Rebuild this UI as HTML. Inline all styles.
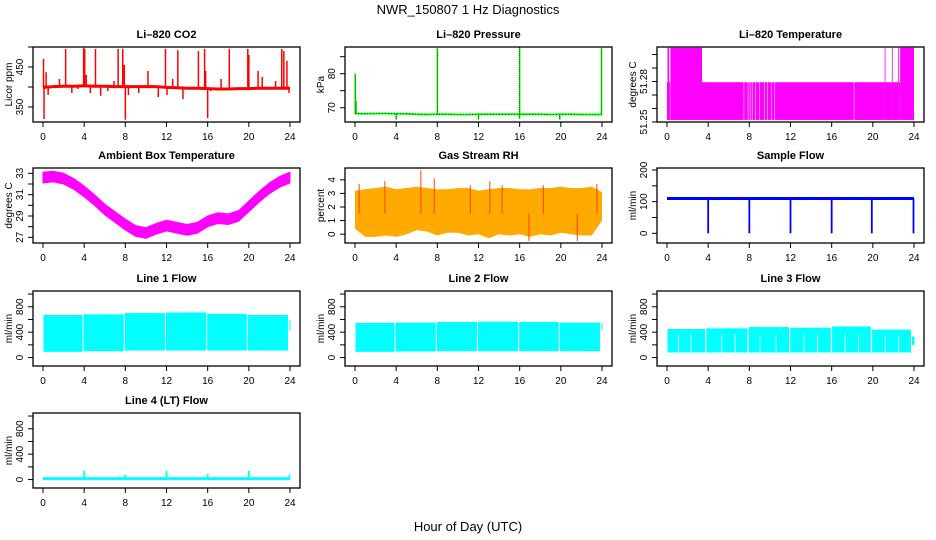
<!DOCTYPE html>
<html><head><meta charset="utf-8"><title>NWR_150807 1 Hz Diagnostics</title>
<style>
html,body{margin:0;padding:0;background:#fff;}
svg{display:block;font-family:"Liberation Sans",Arial,sans-serif;}
</style></head>
<body>
<svg id="fig" width="936" height="540" viewBox="0 0 936 540">
<rect x="0" y="0" width="936" height="540" fill="#fff"/>
<text x="468" y="14" text-anchor="middle" font-size="13">NWR_150807  1 Hz Diagnostics</text>
<text x="468" y="531" text-anchor="middle" font-size="13">Hour of Day (UTC)</text>
</svg>
<script>
// ---------- data ----------
const xTicks = [0,4,8,12,16,20,24];
const hours = [0,1,2,3,4,5,6,7,8,9,10,11,12,13,14,15,16,17,18,19,20,21,22,23,24];

const co2Base = [399,401,402,402,403,402,402,401,401,401,401,401,399,398,397,397,396,395,395,396,396,397,397,397,397];
const co2SpikeT = [0.05,0.1,0.3,0.5,1.6,2.2,2.8,3.4,3.95,4.05,4.2,4.6,5.1,5.6,6.3,6.9,7.3,7.75,7.9,8.0,8.3,9.3,10.2,11.2,11.9,12.05,12.6,13.1,13.6,14.3,15.1,15.7,15.8,16.0,16.3,17.3,18.1,19.9,20.0,20.9,21.3,22.6,23.2,23.4,23.7,23.9];
const co2SpikeV = [470,320,437,380,420,495,385,395,498,495,430,385,495,378,390,415,495,495,455,318,380,385,440,375,495,380,420,492,370,395,490,495,440,322,390,420,495,495,480,440,425,415,495,490,465,385];

const presBase = [68.3,68.2,68.3,68.3,68.2,68.2,68.1,68.0,68.1,68.1,68.0,68.0,68.1,68.1,68.1,68.1,68.1,68.1,68.1,68.0,68.1,68.1,68.0,68.0,68.0];
const presSpikeT = [0.02,0.1,4.0,8.0,12.0,15.98,16.0,19.9,23.95];
const presSpikeV = [80,72,66.5,87.5,66.5,66.8,88.0,66.5,87.5];

const tempT0 = [0.0,0.05,0.2,0.33,3.4,7.5,7.9,8.1,8.3,8.6,9.0,9.5,9.8,10.2,10.5,18.2,21.15,21.2,21.85,21.9,22.45,22.5,22.65];
const tempT1 = [0.05,0.2,0.3,3.4,7.45,7.85,8.05,8.25,8.55,8.95,9.45,9.75,10.15,10.45,18.15,21.15,21.2,21.85,21.9,22.45,22.5,22.65,24.0];
const tempLo = [51.2515,51.2515,51.2515,51.2515,51.2515,51.2515,51.2515,51.2515,51.2515,51.2515,51.2515,51.2515,51.2515,51.2515,51.2515,51.2515,51.2515,51.2515,51.2515,51.2515,51.2515,51.2515,51.2515];
const tempHi = [51.2795,51.305,51.2795,51.305,51.2795,51.2795,51.2795,51.2795,51.2795,51.2795,51.2795,51.2795,51.2795,51.2795,51.2795,51.2795,51.305,51.2795,51.305,51.2795,51.305,51.2795,51.305];

const ambMid = [32.6,32.7,32.5,32.0,31.3,30.5,29.6,28.9,28.2,27.6,27.4,27.8,28.1,27.9,27.7,27.9,28.5,28.8,28.7,29.0,29.9,30.8,31.6,32.2,32.6];

const rhT = [0,1,2,3,4,5,6,7,8,9,10,11,12,13,14,15,16,17,18,19,20,21,22,23,24];
const rhLo = [0.4,-0.2,-0.2,-0.1,-0.2,0.0,0.3,0.2,-0.1,0.1,0.1,-0.1,0.0,-0.3,0.0,-0.1,0.0,-0.2,0.0,-0.1,0.1,0.0,-0.1,-0.1,1.0];
const rhHi = [3.2,3.3,3.4,3.5,3.3,3.4,3.5,3.4,3.3,3.3,3.4,3.4,3.2,3.3,3.4,3.4,3.3,3.3,3.4,3.4,3.5,3.4,3.4,3.5,3.1];
const rhSpikeT = [0.4,2.9,6.4,7.7,11.2,13.1,14.3,16.9,18.3,21.6,23.5];
const rhSpikeV = [3.7,3.9,4.7,4.1,3.6,3.9,3.6,-0.5,3.6,-0.5,3.7];

const sfBase = [110,110,110,110,110,110,110,110,110,110,110,110,110,110,110,110,110,110,110,110,110,110,110,110,110];
const sfDipT = [4.0,8.0,12.0,16.0,19.9,23.95];
const sfDipV = [0,0,0,0,0,0];

const l1T0 = [0.05,3.95,7.95,11.95,15.95,19.9,23.95];
const l1T1 = [3.85,7.85,11.85,15.85,19.8,23.8,24.05];
const l1Lo = [90,100,110,110,110,110,420];
const l1Hi = [670,680,700,710,690,670,590];

const l2T0 = [0.05,3.95,7.95,11.95,15.95,19.9,23.95];
const l2T1 = [3.85,7.85,11.85,15.85,19.8,23.8,24.05];
const l2Lo = [90,95,100,100,100,100,430];
const l2Hi = [545,550,560,565,560,550,560];

const l3T0 = [0.05,3.82,7.93,11.98,16.04,19.93,23.8];
const l3T1 = [3.7,7.8,11.86,15.92,19.8,23.7,24.05];
const l3Lo = [80,80,80,80,80,80,200];
const l3Hi = [450,460,480,470,490,440,330];
const l3GapT = [1.07,2.3,5.28,6.58,9.0,10.56,13.28,14.58,17.27,18.57,21.17,22.47];
const l3GapTop = [370,370,370,370,370,370,370,370,370,370,370,370];

const l4Base = [15,15,15,15,15,15,15,15,15,15,15,15,15,15,15,15,15,15,15,15,15,15,15,15,15];
const l4SpikeT = [4.0,8.0,12.0,16.0,20.0,23.95];
const l4SpikeV = [140,80,140,90,140,80];

// ---------- drawing ----------
const NS = "http://www.w3.org/2000/svg";
const svg = document.getElementById('fig');
const lefts = [33,345,657], tops = [47,168,291,413], W = 267, H = 75;
function mk(tag, attrs, parent){
  const e = document.createElementNS(NS, tag);
  for (const k in attrs) e.setAttribute(k, attrs[k]);
  (parent||svg).appendChild(e);
  return e;
}
function panel(name, col, row, title, ylab, ylim, yticks, ylabels){
  const L = lefts[col], T = tops[row];
  const g = mk('g', {});
  
  
  const x = v => L + 10 + v * 247 / 24;
  const y = v => T + H - (v - ylim[0]) / (ylim[1] - ylim[0]) * H;
  const plot = mk('g', {}, g);
  
  
  const box = mk('rect', {x:L, y:T, width:W, height:H, fill:'none', stroke:'#000', 'stroke-width':1.3}, g);
  
  
  const t = mk('text', {x:L + W/2, y:T - 9, 'text-anchor':'middle', 'font-size':11, 'font-weight':'bold'}, g);
  t.textContent = title;
  
  
  const yl = mk('text', {transform:`translate(${L-21},${T+H/2}) rotate(-90)`, 'text-anchor':'middle', 'font-size':10}, g);
  yl.textContent = ylab;
  
  
  const xa = mk('g', {}, g);
  
  
  mk('line', {x1:x(xTicks[0]), x2:x(xTicks[xTicks.length-1]), y1:T+H, y2:T+H, stroke:'#000', 'stroke-width':1}, xa);
  xTicks.forEach(v => {
    mk('line', {x1:x(v), x2:x(v), y1:T+H, y2:T+H+5, stroke:'#000', 'stroke-width':1}, xa);
    const tl = mk('text', {x:x(v), y:T+H+18, 'text-anchor':'middle', 'font-size':10}, xa);
    tl.textContent = v;
    
    
  });
  const ya = mk('g', {}, g);
  
  
  mk('line', {x1:L, x2:L, y1:y(yticks[0]), y2:y(yticks[yticks.length-1]), stroke:'#000', 'stroke-width':1}, ya);
  yticks.forEach(v => {
    mk('line', {x1:L-5, x2:L, y1:y(v), y2:y(v), stroke:'#000', 'stroke-width':1}, ya);
  });
  ylabels.forEach(v => {
    const tl = mk('text', {transform:`translate(${L-10},${y(v)}) rotate(-90)`, 'text-anchor':'middle', 'font-size':10}, ya);
    tl.textContent = v;
    
    
  });
  return {x, y, g:plot};
}
function line(p, xs, ys, color, w){
  const pts = xs.map((v,i) => p.x(v).toFixed(1) + ',' + p.y(ys[i]).toFixed(1)).join(' ');
  return mk('polyline', {points:pts, fill:'none', stroke:color, 'stroke-width':w}, p.g);
}
function vline(p, t, v0, v1, color, w){
  return mk('line', {x1:p.x(t), x2:p.x(t), y1:p.y(v0), y2:p.y(v1), stroke:color, 'stroke-width':w}, p.g);
}
function band(p, t0, t1, lo, hi, color){
  const x0 = p.x(t0), x1 = p.x(t1);
  return mk('rect', {x:x0, y:p.y(hi), width:Math.max(0.8, x1-x0), height:p.y(lo)-p.y(hi), fill:color}, p.g);
}

{
  const p = panel('co2-panel', 0, 0, 'Li\u2013820 CO2', 'Licor ppm', [312.5,500], [350,400,450,500], [350,450]);
  const l = line(p, hours, co2Base, '#ff0000', 3);
  
  
  co2SpikeT.forEach((t,i) => {
    const s = vline(p, t, co2Base[Math.round(t)], co2SpikeV[i], '#ff0000', 1.5);
    
    
  });
}
{
  const p = panel('pressure-panel', 1, 0, 'Li\u2013820 Pressure', 'kPa', [65.8,87.85], [70,75,80,85], [70,80]);
  const l = line(p, hours, presBase, '#00ff00', 2);
  
  
  line(p, hours, presBase, '#000', 0.6).setAttribute('stroke-dasharray', '1,2');
  presSpikeT.forEach((t,i) => {
    const s = vline(p, t, presBase[Math.round(t)], presSpikeV[i], '#00ff00', 1.6);
    
    
    vline(p, t, presBase[Math.round(t)], presSpikeV[i], '#000', 0.6).setAttribute('stroke-dasharray', '1,1');
  });
}
{
  const p = panel('li820-temp-panel', 2, 0, 'Li\u2013820 Temperature', 'degrees C', [51.25,51.3056], [51.25,51.26,51.27,51.28,51.29,51.30], ['51.25','51.28']);
  tempT0.forEach((t,i) => {
    const r = band(p, t, tempT1[i], tempLo[i], tempHi[i], '#ff00ff');
    
    
  });
}
{
  const p = panel('ambient-temp-panel', 0, 1, 'Ambient Box Temperature', 'degrees C', [26.47,33.5], [27,28,29,30,31,32,33], [27,29,31,33]);
  const up = hours.map((h,i) => p.x(h).toFixed(1) + ',' + p.y(ambMid[i] + 0.5).toFixed(1));
  const dn = hours.slice().reverse().map((h,j) => p.x(h).toFixed(1) + ',' + p.y(ambMid[hours.length-1-j] - 0.5).toFixed(1));
  const poly = mk('polygon', {points: up.concat(dn).join(' '), fill:'#ff00ff', stroke:'#ff00ff', 'stroke-width':1}, p.g);
  
  
}
{
  const p = panel('rh-panel', 1, 1, 'Gas Stream RH', 'percent', [-0.65,4.87], [0,1,2,3,4], [0,1,2,3,4]);
  const up = rhT.map((h,i) => p.x(h).toFixed(1) + ',' + p.y(rhHi[i]).toFixed(1));
  const dn = rhT.slice().reverse().map((h,j) => p.x(h).toFixed(1) + ',' + p.y(rhLo[rhT.length-1-j]).toFixed(1));
  const poly = mk('polygon', {points: up.concat(dn).join(' '), fill:'#ffaa00'}, p.g);
  
  
  rhSpikeT.forEach((t,i) => {
    const s = vline(p, t, 1.5, rhSpikeV[i], '#ff4000', 1);
    
    
  });
}
{
  const p = panel('sample-flow-panel', 2, 1, 'Sample Flow', 'ml/min', [-30.6,206.3], [0,50,100,150,200], [0,100,200]);
  const l = line(p, hours, sfBase, '#0000ff', 3);
  
  
  sfDipT.forEach((t,i) => {
    const s = vline(p, t, sfBase[Math.round(t)], sfDipV[i], '#0000ff', 1.8);
    
    
  });
}
const flowTicks = [0,200,400,600,800,1000], flowLabels = [0,400,800], flowLim = [-133,1048];
{
  const p = panel('line1-flow-panel', 0, 2, 'Line 1 Flow', 'ml/min', flowLim, flowTicks, flowLabels);
  l1T0.forEach((t,i) => {
    const r = band(p, t, l1T1[i], l1Lo[i], l1Hi[i], '#00ffff');
    
    
  });
}
{
  const p = panel('line2-flow-panel', 1, 2, 'Line 2 Flow', 'ml/min', flowLim, flowTicks, flowLabels);
  l2T0.forEach((t,i) => {
    const r = band(p, t, l2T1[i], l2Lo[i], l2Hi[i], '#00ffff');
    
    
  });
}
{
  const p = panel('line3-flow-panel', 2, 2, 'Line 3 Flow', 'ml/min', flowLim, flowTicks, flowLabels);
  l3T0.forEach((t,i) => {
    const r = band(p, t, l3T1[i], l3Lo[i], l3Hi[i], '#00ffff');
    
    
  });
  l3GapT.forEach((t,i) => {
    const r = band(p, t, t + 0.08, 70, l3GapTop[i], '#ffffff');
    
    
  });
}
{
  const p = panel('line4-flow-panel', 0, 3, 'Line 4 (LT) Flow', 'ml/min', flowLim, flowTicks, flowLabels);
  const l = line(p, hours, l4Base, '#00ffff', 3);
  
  
  l4SpikeT.forEach((t,i) => {
    const s = vline(p, t, l4Base[Math.round(t)], l4SpikeV[i], '#00ffff', 1.8);
    
    
  });
}
</script>
</body></html>
